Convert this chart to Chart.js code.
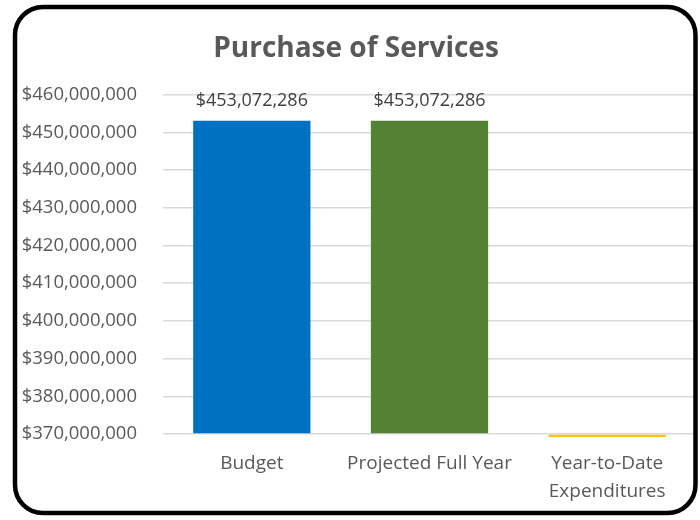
<!DOCTYPE html>
<html>
<head>
<meta charset="utf-8">
<script src="https://cdn.jsdelivr.net/npm/chart.js@4.4.1/dist/chart.umd.min.js"></script>
<style>
  html, body { margin: 0; padding: 0; background: #fff; }
  #wrap { width: 700px; height: 520px; }
</style>
</head>
<body>
<div id="wrap"><canvas id="chart" width="700" height="520"></canvas></div>
<script>
// chart values
const categories = ['Budget', 'Projected Full Year', ['Year-to-Date', 'Expenditures']];
const amounts = [453072286, 453072286, 0];
const axisMin = 370000000;
const axisMax = 460000000;
const axisStep = 10000000;

const money = v => '$' + Number(v).toLocaleString('en-US');

// value labels above the bars (skipped when the bar sits below the axis)
const valueLabels = {
  id: 'valueLabels',
  afterDatasetsDraw(chart) {
    const ctx = chart.ctx;
    const meta = chart.getDatasetMeta(0);
    ctx.save();
    ctx.font = '18px "Open Sans"';
    ctx.fillStyle = '#404040';
    ctx.textAlign = 'center';
    ctx.textBaseline = 'bottom';
    meta.data.forEach((bar, i) => {
      if (amounts[i] < axisMin) return;
      ctx.fillText(money(amounts[i]), bar.x, bar.y - 11);
    });
    ctx.restore();
  }
};

// rounded black frame round the whole chart
const frame = {
  id: 'frame',
  afterDraw(chart) {
    const ctx = chart.ctx;
    ctx.save();
    ctx.lineWidth = 4.5;
    ctx.strokeStyle = '#000';
    ctx.beginPath();
    ctx.roundRect(15, 7, 680.5, 506, 28);
    ctx.stroke();
    ctx.restore();
  }
};

new Chart(document.getElementById('chart'), {
  type: 'bar',
  data: {
    labels: categories,
    datasets: [{
      data: amounts,
      backgroundColor: ['#0070C0', '#548235', '#FFC000'],
      base: axisMin,
      barPercentage: 0.66,
      categoryPercentage: 1,
      clip: { left: 0, top: 0, right: 0, bottom: 3 }
    }]
  },
  options: {
    responsive: false,
    animation: false,
    layout: { padding: { left: 16, right: 4, top: 0, bottom: 0 } },
    plugins: {
      legend: { display: false },
      tooltip: { enabled: false },
      title: {
        display: true,
        text: 'Purchase of Services',
        color: '#595959',
        font: { family: 'Open Sans', size: 28, weight: 'bold', lineHeight: 1.2 },
        padding: { top: 32, bottom: 29 }
      }
    },
    scales: {
      x: {
        grid: { display: false, drawTicks: false },
        border: { display: false },
        ticks: {
          color: '#595959',
          font: { family: 'Open Sans', size: 19, lineHeight: 1.5 },
          padding: 15,
          maxRotation: 0
        },
        afterFit(scale) { scale.height = 86; }
      },
      y: {
        min: axisMin,
        max: axisMax,
        grid: { color: '#D9D9D9', lineWidth: 1.5, drawTicks: false },
        border: { display: false },
        ticks: {
          stepSize: axisStep,
          color: '#595959',
          font: { family: 'Open Sans', size: 18.5 },
          padding: 26,
          callback: v => money(v)
        },
        afterFit(scale) { scale.width = 147; }
      }
    }
  },
  plugins: [valueLabels, frame]
});
</script>
</body>
</html>
